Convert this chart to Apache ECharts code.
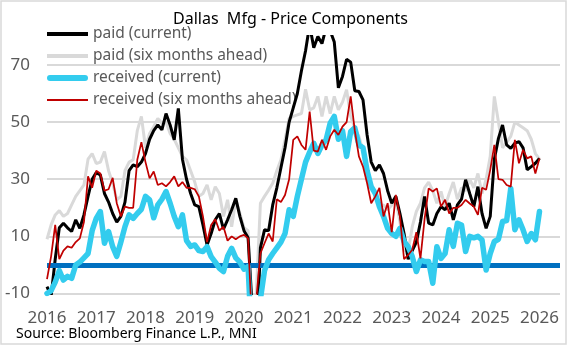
<!DOCTYPE html>
<html>
<head>
<meta charset="utf-8">
<script src="https://cdn.jsdelivr.net/npm/echarts@6/dist/echarts.min.js"></script>
<style>
  html, body { margin: 0; padding: 0; background: #fff; }
  #chart { width: 568px; height: 346px; }
</style>
</head>
<body>
<div id="chart"></div>
<script>
// Monthly readings, Jan 2016 .. Jan 2026 (one row per year)
const paidCurrent = [
  -7.6, -11, 2, 13, 14.6, 13, 11.7, 15.8, 12.8, 17.5, 24, 30,
  32.3, 31.5, 25, 22, 18, 15, 17, 22, 33, 35, 34.4, 36,
  39, 44, 47, 49, 47.3, 53, 49, 43.8, 54.8, 37, 30, 25,
  21, 20.4, 14, 7, 11, 15.8, 18, 12.5, 15.8, 19.3, 23.3, 17,
  12, 9.5, -15, -30, 6, 12.3, 12, 21, 27, 34, 41, 50,
  55, 60, 68, 75, 84, 76, 80, 77.5, 83, 82, 78, 62,
  66, 72, 71, 61, 60.7, 57.8, 45.5, 36, 33, 35, 32, 26,
  21.6, 24, 18, 11, 2, 5, 8, 15, 24, 14.6, 14, 18,
  20.4, 19.3, 21.6, 15.8, 21, 23, 29.8, 25, 20.4, 27.4, 18, 12.8,
  17, 37, 44.3, 49, 42, 40.8, 42.6, 43.2, 41, 33.3, 34.4, 35.6,
  37.3
];
const paidAhead = [
  9, 14, 17.5, 19, 17, 18, 21, 24, 26, 28, 37, 39,
  35.5, 36, 39.7, 33, 28.6, 22.8, 24, 33, 36, 36.8, 47, 52,
  41, 46, 48.4, 51.3, 49.6, 50, 46, 44, 41, 38, 36.8, 33,
  29, 24, 25, 28, 22.8, 27.4, 25, 17, 22.8, 13.4, 22.8, 18,
  13, 12, -25, -10, 21.6, 24, 26.2, 28.6, 33, 36.8, 43.8, 51.3,
  52, 52.5, 53, 61.5, 54.3, 55, 59, 52, 59, 53, 59, 54.3,
  57, 61.3, 52, 48, 45, 40, 33, 28, 24, 20.4, 21, 19.3,
  21, 22.8, 15, 5.3, 4.7, 13.4, 18.7, 21.6, 27, 29, 26, 21.6,
  25.7, 20.4, 25, 29, 23, 27, 26, 30, 27, 32, 25, 30,
  38, 59, 50, 41, 43, 45, 50, 49, 48, 47, 44, 39,
  37
];
const receivedCurrent = [
  -10, -9, -6, -2, -5.3, -4, -4.7, 0, 1, 2.5, 4, 12,
  16.3, 18.7, 7.6, 11.7, 6.4, 3, 8, 13.4, 17.5, 16.3, 18, 19.5,
  24, 22.8, 16.5, 21, 23, 25.7, 21.6, 17, 13.4, 17.5, 8.5, 6.5,
  7, 5, 4.7, 6.4, 2.9, 1, -1.2, -2.3, 3, 5.8, 2.5, 1,
  -1.5, -0.6, -30, -40, -12, -2, 1.8, 4, 6, 8, 11, 19.3,
  17, 24, 30, 36, 39.5, 42.6, 39, 42, 43.8, 49.6, 52, 44,
  47, 38, 46.7, 48, 42, 41, 33, 27.4, 25, 20.4, 17, 12.8,
  11, 10, 12.8, 8.2, 6.4, 2.9, -2.3, 1.8, 1.2, 1.2, -6.4, 6.4,
  2.3, 4, 12.3, 6.5, 14.6, 14, 4.7, 10, 9.5, 10, 8.8, -1.8,
  4, 8.2, 9, 15.2, 15.5, 26.8, 12.3, 15.8, 12.3, 8.2, 11, 8.8,
  18.7
];
const receivedAhead = [
  -5, 3, 14, 2, 5, 6.5, 6, 8, 9.3, 15, 31, 27,
  33, 32, 26, 26.5, 30.5, 21.6, 17, 20.4, 20, 20, 36.8, 43,
  36, 30.3, 32.7, 28, 28.6, 27.5, 29, 31, 27.5, 29, 27, 27,
  26.5, 24, 17, 8, 14, 16, 12, 13.4, 8.5, 10, 9, 10,
  10.5, 9.3, -22, -12, 4, 7.6, 11, 8.2, 23, 22, 24.5, 30,
  43.8, 45, 42, 40.3, 53.7, 40, 39.7, 43.8, 40.3, 45, 47.3, 45.5,
  48.4, 50, 59, 47, 38, 34.4, 28.6, 21.6, 24, 27, 17, 21.6,
  11.5, 24.5, 17, 2, 3.5, 5.3, 11.5, 2.3, 16, 26.8, 25.7, 26.8,
  20.4, 22.8, 18, 20, 20, 21, 22.8, 21.5, 20.4, 17.5, 27, 26.3,
  33.3, 42, 30, 29.8, 28, 27.4, 43.8, 35.6, 40.3, 37.3, 38, 32,
  37.3
];
const years = ['2016', '2017', '2018', '2019', '2020', '2021', '2022', '2023', '2024', '2025', '2026'];
const yTicks = [-10, 10, 30, 50, 70];
const seriesNames = ['paid (current)', 'paid (six months ahead)', 'received (current)', 'received (six months ahead)'];

const FONT = 'Noto Sans';
const toPoints = arr => arr.map((v, i) => [i, v]);

// Legend keys: plain strokes of different thickness (aspect kept, width fills itemWidth)
const legendKeys = [
  'path://M0 0H41V4H0Z',
  'path://M0 0H41V4H0Z',
  'path://M3 0H38A3 3 0 0 1 38 6H3A3 3 0 0 1 3 0Z',
  'path://M0 0H41V2H0Z'
];

const chart = echarts.init(document.getElementById('chart'), null, { renderer: 'canvas' });

chart.setOption({
  backgroundColor: '#ffffff',
  animation: false,
  title: {
    text: 'Dallas  Mfg - Price Components',
    left: 173,
    top: 11,
    padding: 0,
    textStyle: { fontFamily: FONT, fontSize: 16, fontWeight: 'normal', color: '#000000' }
  },
  legend: {
    orient: 'vertical',
    left: 47,
    top: 26,
    padding: 0,
    itemWidth: 41,
    itemHeight: 16,
    itemGap: 6,
    symbolKeepAspect: true,
    data: seriesNames.map((n, i) => ({ name: n, icon: legendKeys[i] })),
    textStyle: { fontFamily: FONT, fontSize: 15.5, color: '#595959', lineHeight: 16 }
  },
  grid: { left: 47, right: 8, top: 36.4, bottom: 52.5, containLabel: false, outerBoundsMode: 'none' },
  xAxis: {
    type: 'value',
    min: 0,
    max: 125,
    interval: 12,
    axisLine: { show: false },
    axisTick: { show: false },
    splitLine: { show: false },
    axisLabel: {
      fontFamily: FONT, fontSize: 17, color: '#595959', margin: 16,
      showMaxLabel: false,
      formatter: v => years[Math.round(v / 12)] || ''
    }
  },
  yAxis: {
    type: 'value',
    min: yTicks[0],
    max: 80,
    interval: yTicks[1] - yTicks[0],
    axisLine: { show: false },
    axisTick: { show: false },
    axisLabel: {
      fontFamily: FONT, fontSize: 17, color: '#595959', margin: 17,
      showMaxLabel: false
    },
    splitLine: { show: true, showMaxLine: false, lineStyle: { color: '#d9d9d9', width: 1.8 } }
  },
  series: [
    {
      name: 'zero',
      type: 'line',
      data: [],
      z: 1,
      markLine: {
        silent: true,
        symbol: 'none',
        label: { show: false },
        lineStyle: { color: '#0070C0', width: 5, type: 'solid' },
        data: [{ yAxis: 0 }]
      }
    },
    {
      name: seriesNames[0], type: 'line', data: toPoints(paidCurrent),
      symbol: 'none', showSymbol: false, z: 4,
      lineStyle: { color: '#000000', width: 3 }, itemStyle: { color: '#000000' }
    },
    {
      name: seriesNames[1], type: 'line', data: toPoints(paidAhead),
      symbol: 'none', showSymbol: false, z: 3,
      lineStyle: { color: '#d9d9d9', width: 3 }, itemStyle: { color: '#d9d9d9' }
    },
    {
      name: seriesNames[2], type: 'line', data: toPoints(receivedCurrent),
      symbol: 'none', showSymbol: false, z: 5,
      lineStyle: { color: '#33CCEE', width: 5.5, cap: 'round', join: 'round' }, itemStyle: { color: '#33CCEE' }
    },
    {
      name: seriesNames[3], type: 'line', data: toPoints(receivedAhead),
      symbol: 'none', showSymbol: false, z: 6,
      lineStyle: { color: '#C00000', width: 1.75 }, itemStyle: { color: '#C00000' }
    }
  ],
  graphic: [
    {
      type: 'rect', silent: true, z: 100,
      shape: { x: 1, y: 1, width: 565, height: 343 },
      style: { fill: 'none', stroke: '#d9d9d9', lineWidth: 1.5 }
    },
    {
      type: 'text', left: 16, top: 327, silent: true,
      style: { text: 'Source: Bloomberg Finance L.P., MNI', font: '14px "Noto Sans"', fill: '#000000' }
    }
  ]
});
</script>
</body>
</html>
